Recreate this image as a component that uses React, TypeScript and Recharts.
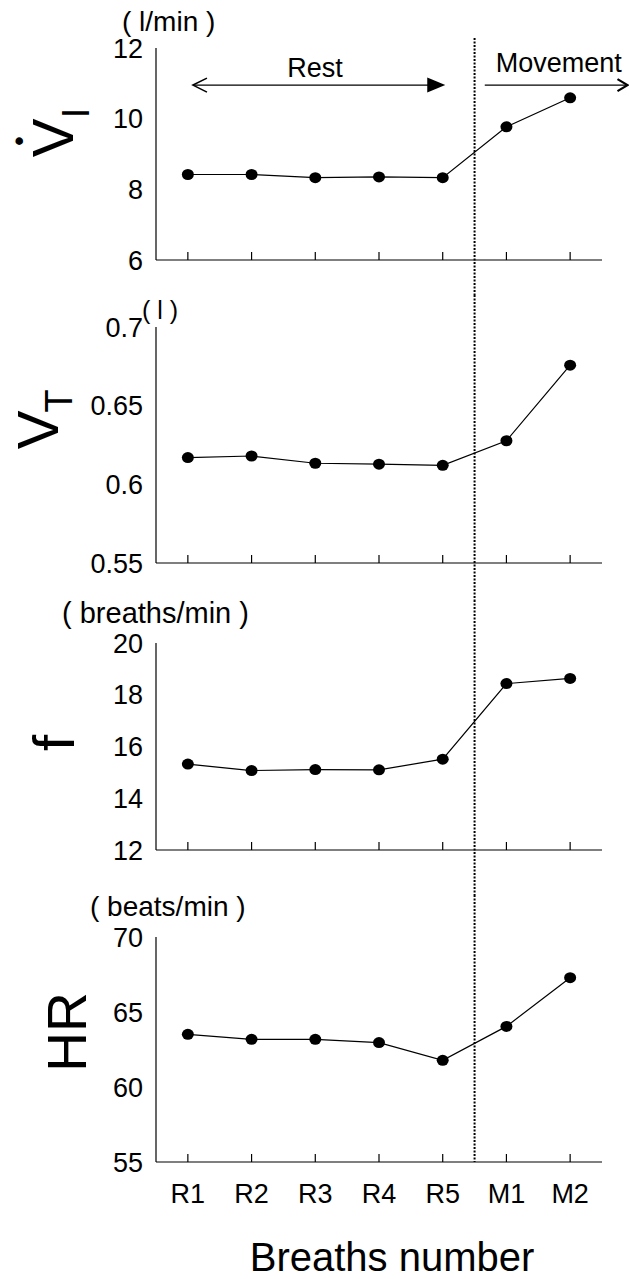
import React from "react";
import { LineChart, Line, XAxis, YAxis, ReferenceLine } from "recharts";

// breaths R1..R5 at rest, M1..M2 during movement
const categories = ["R1", "R2", "R3", "R4", "R5", "M1", "M2"];
const viValues = [8.42, 8.42, 8.33, 8.35, 8.33, 9.77, 10.59];
const vtValues = [0.617, 0.618, 0.6134, 0.6128, 0.6121, 0.6277, 0.6757];
const fValues = [15.32, 15.07, 15.11, 15.1, 15.51, 18.43, 18.63];
const hrValues = [63.51, 63.18, 63.18, 62.96, 61.78, 64.04, 67.29];

const viTicks = [6, 8, 10, 12];
const vtTicks = [0.55, 0.6, 0.65, 0.7];
const fTicks = [12, 14, 16, 18, 20];
const hrTicks = [55, 60, 65, 70];

const breathIndex = categories.map((_, i) => i + 1);

const rows = categories.map((label, i) => ({
  n: i + 1,
  label,
  vi: viValues[i],
  vt: vtValues[i],
  f: fValues[i],
  hr: hrValues[i],
}));

const FONT = '"Liberation Sans", Arial, Helvetica, sans-serif';
const W = 629;
const H = 1279;
const PLOT_LEFT = 156;
const PLOT_RIGHT = 602;
const X_DOMAIN: [number, number] = [0.5, 7.5];
const SPLIT_X = 5.5;
const X_AXIS_H = 2;

const panels = [
  { key: "vi", top: 0, height: 295, mTop: 48, mBottom: 35, domain: [6, 12], ticks: viTicks, split: [12.28, 5.0], labels: false },
  { key: "vt", top: 295, height: 305, mTop: 32, mBottom: 37, domain: [0.55, 0.7], ticks: vtTicks, split: [0.7203, 0.5265], labels: false },
  { key: "f", top: 600, height: 295, mTop: 43, mBottom: 45, domain: [12, 20], ticks: fTicks, split: [21.66, 10.26], labels: false },
  { key: "hr", top: 895, height: 384, mTop: 42, mBottom: 117, domain: [55, 70], ticks: hrTicks, split: [72.8, 55], labels: true },
];

function XTick(props: any) {
  const { x, y, payload, showLabel } = props;
  return (
    <g>
      <line x1={x} y1={y} x2={x} y2={y - 8} stroke="#000" strokeWidth={1.2} />
      {showLabel && (
        <text x={x} y={y + 41} textAnchor="middle" fontSize={27} fontFamily={FONT} fill="#000">
          {categories[payload.value - 1]}
        </text>
      )}
    </g>
  );
}

const renderDot = (p: any) => (
  <ellipse key={`d${p.index}`} cx={p.cx} cy={p.cy} rx={6} ry={5.5} fill="#000" />
);

const RestArrow = (p: any) => {
  const { x1, y1, x2 } = p;
  return (
    <g>
      <line x1={x1} y1={y1} x2={x2 - 16} y2={y1} stroke="#000" strokeWidth={1.3} />
      <polyline points={`${x1 + 14},${y1 - 7} ${x1},${y1} ${x1 + 14},${y1 + 7}`} fill="none" stroke="#000" strokeWidth={1.6} />
      <polygon points={`${x2 - 18},${y1 - 7.5} ${x2},${y1} ${x2 - 18},${y1 + 7.5}`} fill="#000" />
      <text x={(x1 + x2) / 2 - 4} y={y1 - 8} textAnchor="middle" fontSize={27} fontFamily={FONT} fill="#000">
        Rest
      </text>
    </g>
  );
};

const MoveArrow = (p: any) => {
  const { x1, y1, x2 } = p;
  return (
    <g>
      <line x1={x1} y1={y1} x2={x2} y2={y1} stroke="#000" strokeWidth={1.3} />
      <polyline points={`${x2 - 10},${y1 - 6} ${x2},${y1} ${x2 - 10},${y1 + 6}`} fill="none" stroke="#000" strokeWidth={2.2} />
      <text x={x1 + 11} y={y1 - 13} textAnchor="start" fontSize={27} fontFamily={FONT} fill="#000">
        Movement
      </text>
    </g>
  );
};

function Panel({ cfg }: { cfg: (typeof panels)[number] }) {
  return (
    <div style={{ position: "absolute", left: 0, top: cfg.top }}>
      <LineChart
        width={W}
        height={cfg.height}
        data={rows}
        margin={{ top: cfg.mTop, right: W - PLOT_RIGHT, bottom: cfg.mBottom - X_AXIS_H, left: 0 }}
      >
        <XAxis
          dataKey="n"
          type="number"
          domain={X_DOMAIN}
          ticks={breathIndex}
          interval={0}
          height={X_AXIS_H}
          tickLine={false}
          tickSize={0}
          tickMargin={0}
          axisLine={{ stroke: "#000", strokeWidth: 1.2 }}
          tick={(tp: any) => <XTick {...tp} showLabel={cfg.labels} />}
        />
        <YAxis
          type="number"
          width={PLOT_LEFT}
          domain={cfg.domain}
          ticks={cfg.ticks}
          interval={0}
          tickLine={false}
          tickSize={6}
          tickMargin={7}
          axisLine={{ stroke: "#000", strokeWidth: 1.2 }}
          tick={{ fill: "#000", fontSize: 27, fontFamily: FONT }}
        />
        <ReferenceLine
          segment={[
            { x: SPLIT_X, y: cfg.split[0] },
            { x: SPLIT_X, y: cfg.split[1] },
          ]}
          stroke="#000"
          strokeWidth={2}
          strokeDasharray="2 1.5"
          ifOverflow="visible"
        />
        {cfg.key === "vi" && (
          <ReferenceLine
            segment={[
              { x: 1.08, y: 10.95 },
              { x: 5.04, y: 10.95 },
            ]}
            ifOverflow="visible"
            shape={RestArrow}
          />
        )}
        {cfg.key === "vi" && (
          <ReferenceLine
            segment={[
              { x: 5.66, y: 10.95 },
              { x: 7.9, y: 10.95 },
            ]}
            ifOverflow="visible"
            shape={MoveArrow}
          />
        )}
        <Line
          type="linear"
          dataKey={cfg.key}
          stroke="#000"
          strokeWidth={1.2}
          dot={renderDot}
          activeDot={false}
          isAnimationActive={false}
        />
      </LineChart>
    </div>
  );
}

const rot = (x: number, y: number) => `translate(${x},${y}) rotate(-90)`;

export default function App() {
  return (
    <div style={{ position: "absolute", left: 0, top: 0, width: W, height: H, background: "#fff" }}>
      {panels.map((p) => (
        <Panel key={p.key} cfg={p} />
      ))}
      <svg
        width={W}
        height={H}
        style={{ position: "absolute", left: 0, top: 0, pointerEvents: "none" }}
        fontFamily={FONT}
        fill="#000"
      >
        {/* V-dot sub I */}
        <text transform={rot(28, 141)} textAnchor="middle" fontSize={28}>•</text>
        <text transform={rot(73, 138)} textAnchor="middle" fontSize={58}>V</text>
        <text transform={rot(89, 113)} textAnchor="middle" fontSize={38}>I</text>
        <text x={122} y={31} fontSize={28}>( l/min )</text>

        <text transform={rot(58, 430)} textAnchor="middle" fontSize={58}>V</text>
        <text transform={rot(72, 401)} textAnchor="middle" fontSize={38}>T</text>
        <text x={142} y={319} fontSize={25}>( l )</text>

        <text transform={rot(74, 743)} textAnchor="middle" fontSize={58}>f</text>
        <text x={62} y={623} fontSize={29}>( breaths/min )</text>

        <text transform={rot(86, 1032)} textAnchor="middle" fontSize={55}>HR</text>
        <text x={90} y={916} fontSize={28}>( beats/min )</text>

        <text x={392} y={1271} textAnchor="middle" fontSize={40}>Breaths number</text>
      </svg>
    </div>
  );
}
